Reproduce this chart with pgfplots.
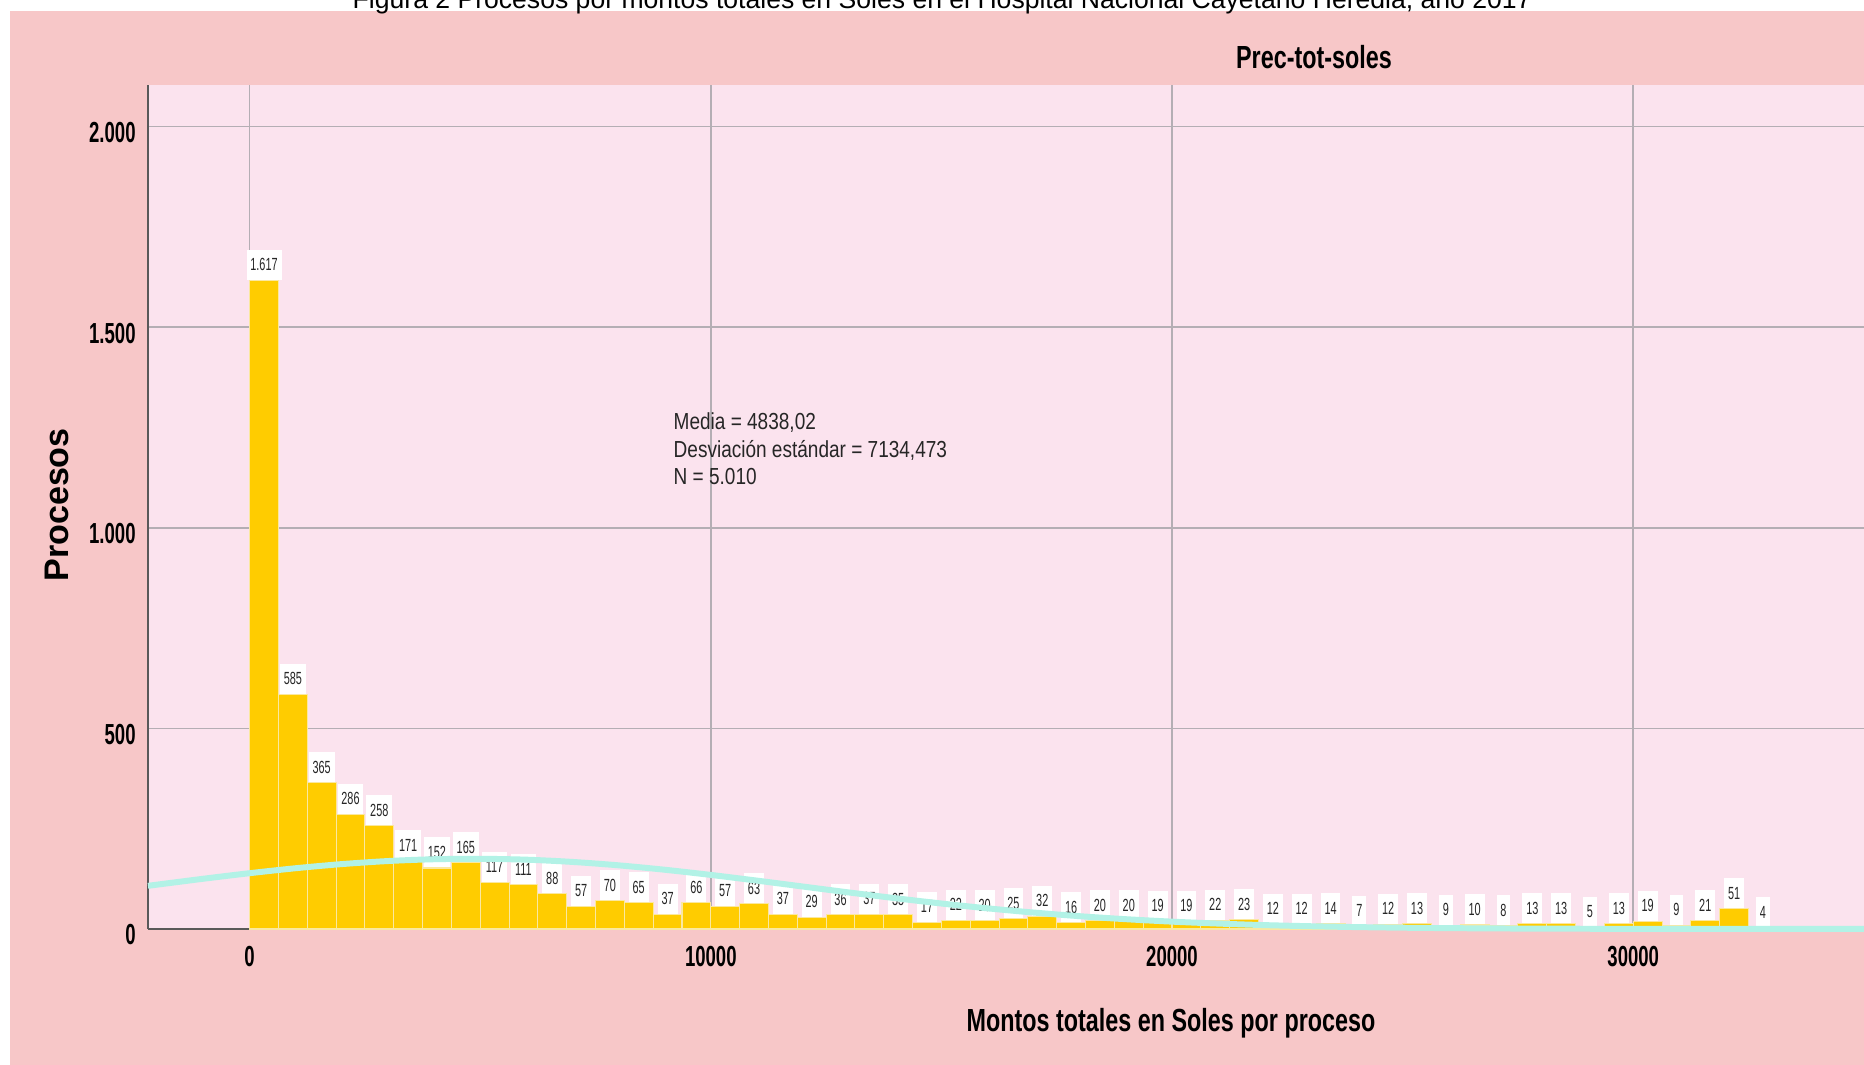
\documentclass[border=0pt]{standalone}
\usepackage{pgfplots}
\usepackage{pgfplotstable}
\pgfplotsset{compat=1.18}
\usepackage{fontspec}
\setmainfont{Liberation Sans}
\newfontfamily\condtick[FakeStretch=0.64]{Liberation Sans}
\newfontfamily\condlab[FakeStretch=0.73]{Liberation Sans}
\newfontfamily\condval[FakeStretch=0.62]{Liberation Sans}
\newfontfamily\condstat[FakeStretch=0.82]{Liberation Sans}
\definecolor{outerpink}{HTML}{F7C7C8}
\definecolor{innerpink}{HTML}{FBE3EE}
\definecolor{barc}{HTML}{FFCC00}
\definecolor{baredge}{HTML}{FAE8A0}
\definecolor{curvec}{HTML}{B2F2E6}
\definecolor{gridc}{HTML}{B4AEB4}

\pgfplotstableread{
x y
312.5 1617
937.5 585
1562.5 365
2187.5 286
2812.5 258
3437.5 171
4062.5 152
4687.5 165
5312.5 117
5937.5 111
6562.5 88
7187.5 57
7812.5 70
8437.5 65
9062.5 37
9687.5 66
10312.5 57
10937.5 63
11562.5 37
12187.5 29
12812.5 36
13437.5 37
14062.5 35
14687.5 17
15312.5 22
15937.5 20
16562.5 25
17187.5 32
17812.5 16
18437.5 20
19062.5 20
19687.5 19
20312.5 19
20937.5 22
21562.5 23
22187.5 12
22812.5 12
23437.5 14
24062.5 7
24687.5 12
25312.5 13
25937.5 9
26562.5 10
27187.5 8
27812.5 13
28437.5 13
29062.5 5
29687.5 13
30312.5 19
30937.5 9
31562.5 21
32187.5 51
32812.5 4
}\bins

\pgfplotstableread{
x y
-2203 107.6
-1000 125.3
0 139.1
1000 151.5
2000 161.8
3000 169.4
4000 173.9
5000 175.0
6000 172.8
7000 167.2
8000 158.7
9000 147.7
10000 134.8
11000 120.6
12000 105.8
13000 91.0
14000 76.8
15000 63.5
16000 51.5
17000 41.0
18000 31.9
19000 24.4
20000 18.3
21000 13.5
22000 9.7
23000 6.9
24000 4.75
25000 3.2
26000 2.15
27000 1.4
28000 0.9
30000 0.35
32000 0.12
35004 0.02
}\normalcurve

\pgfplotsset{
  common/.style={
    at={(1.48cm,1.36cm)}, anchor=south west,
    width=17.16cm, height=8.44cm, scale only axis,
    xmin=-2203, xmax=35004, ymin=0, ymax=2104,
    clip=false,
    scaled x ticks=false, scaled y ticks=false,
  }
}

\begin{document}
\begin{tikzpicture}
\clip (0,0) rectangle (18.64cm,10.65cm);
\fill[white] (0,0) rectangle (18.64cm,10.65cm);
\fill[outerpink] (0.10cm,0) rectangle (18.64cm,10.54cm);
\node[anchor=base west,inner sep=0pt] at (3.52cm,10.56cm)
  {\resizebox{11.79cm}{!}{Figura 2 Procesos por montos totales en Soles en el Hospital Nacional Cayetano Heredia, año 2017}};

\begin{axis}[
  common,
  axis background/.style={fill=innerpink},
  axis x line=bottom, axis y line=left,
  axis line style={-, draw=black!65, line width=0.5pt},
  major tick length=0pt,
  xtick={0,10000,20000,30000},
  xticklabels={0,10000,20000,30000},
  ytick={0,500,1000,1500,2000},
  yticklabels={0,500,1.000,1.500,2.000},
  grid=major,
  major grid style={draw=gridc, line width=0.45pt},
  xticklabel style={font=\condtick\bfseries\fontsize{8.25}{9}\selectfont, yshift=-0.05cm},
  yticklabel style={font=\condtick\bfseries\fontsize{8.25}{9}\selectfont, yshift=-0.06cm},
  /pgf/number format/assume math mode=true,
]
\addplot[ybar, bar width=625, fill=barc, draw=baredge, line width=0.3pt,
  nodes near coords,
  nodes near coords style={anchor=south, fill=white, inner xsep=1.1pt, inner ysep=2.5pt,
    text=black!85, font=\condval\fontsize{5}{6}\selectfont,
    /pgf/number format/1000 sep={.}, /pgf/number format/assume math mode=true}]
  table[x=x,y=y] {\bins};
\end{axis}

\begin{axis}[common, hide axis]
\addplot[smooth, draw=curvec, line width=1.7pt, no marks] table[x=x,y=y] {\normalcurve};
\end{axis}

\node[font=\condlab\bfseries\fontsize{9.1}{10}\selectfont] at (13.14cm,10.08cm) {Prec-tot-soles};
\node[font=\condlab\bfseries\fontsize{9.1}{10}\selectfont] at (11.71cm,0.42cm) {Montos totales en Soles por proceso};
\node[font=\bfseries\fontsize{9.7}{11}\selectfont, rotate=90] at (0.57cm,5.60cm) {Procesos};
\node[anchor=base west, inner sep=0pt, font=\condstat\fontsize{6.6}{7}\selectfont, text=black!85] at (6.73cm,6.35cm) {Media = 4838,02};
\node[anchor=base west, inner sep=0pt, font=\condstat\fontsize{6.6}{7}\selectfont, text=black!85] at (6.73cm,6.07cm) {Desviación estándar = 7134,473};
\node[anchor=base west, inner sep=0pt, font=\condstat\fontsize{6.6}{7}\selectfont, text=black!85] at (6.73cm,5.80cm) {N = 5.010};
\end{tikzpicture}
\end{document}
